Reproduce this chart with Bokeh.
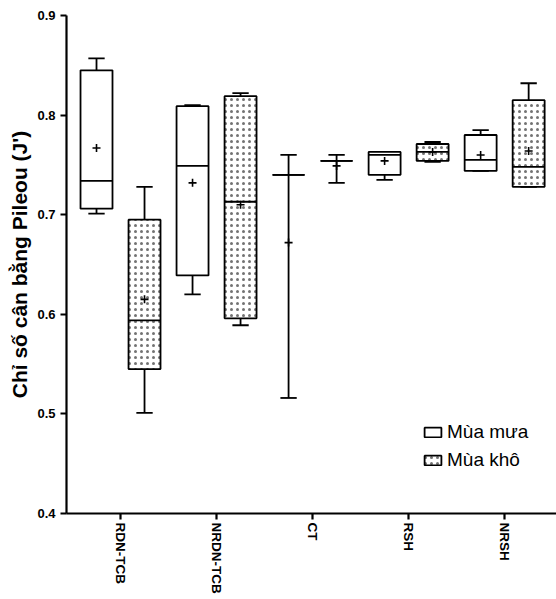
import numpy as np
from bokeh.plotting import figure
from bokeh.models import Range1d, FixedTicker, Legend, LegendItem, ColumnDataSource
from bokeh.embed import file_html
from bokeh.resources import INLINE

groups = ["RDN-TCB", "NRDN-TCB", "CT", "RSH", "NRSH"]
y_ticks = [0.4, 0.5, 0.6, 0.7, 0.8, 0.9]

rain_low = [0.701, 0.620, 0.516, 0.735, 0.744]
rain_q1 = [0.706, 0.639, 0.740, 0.740, 0.744]
rain_med = [0.734, 0.749, 0.740, 0.760, 0.755]
rain_q3 = [0.845, 0.809, 0.740, 0.763, 0.780]
rain_high = [0.857, 0.810, 0.760, 0.763, 0.785]
rain_mean = [0.767, 0.732, 0.672, 0.754, 0.760]

dry_low = [0.501, 0.589, 0.732, 0.753, 0.728]
dry_q1 = [0.545, 0.596, 0.754, 0.754, 0.728]
dry_med = [0.594, 0.713, 0.754, 0.763, 0.748]
dry_q3 = [0.695, 0.819, 0.754, 0.771, 0.815]
dry_high = [0.728, 0.822, 0.760, 0.773, 0.832]
dry_mean = [0.615, 0.710, 0.749, 0.763, 0.764]

FONT = "Liberation Sans"
BOX_W = 0.333
CAP_W = 0.17
LW = 1.8

p = figure(width=556, height=599, output_backend="svg", toolbar_location=None,
           x_range=Range1d(-0.5625, 4.54), y_range=Range1d(0.4, 0.9),
           min_border_left=66, min_border_top=15, min_border_bottom=86, min_border_right=0)
p.outline_line_color = None
p.xgrid.visible = False
p.ygrid.visible = False
p.background_fill_color = "white"
p.border_fill_color = "white"

idx = np.arange(len(groups), dtype=float)

def draw(offset, low, q1, med, q3, high, mean, hatch):
    x = idx + offset
    src = ColumnDataSource(dict(x=x, low=low, q1=q1, med=med, q3=q3, high=high, mean=mean,
                                x0=x - BOX_W / 2, x1=x + BOX_W / 2,
                                c0=x - CAP_W / 2, c1=x + CAP_W / 2))
    p.segment(x0="x", y0="low", x1="x", y1="q1", source=src, line_color="black", line_width=LW)
    p.segment(x0="x", y0="q3", x1="x", y1="high", source=src, line_color="black", line_width=LW)
    p.segment(x0="c0", y0="low", x1="c1", y1="low", source=src, line_color="black", line_width=LW)
    p.segment(x0="c0", y0="high", x1="c1", y1="high", source=src, line_color="black", line_width=LW)
    kw = dict(fill_color="white", line_color="black", line_width=LW)
    if hatch:
        kw.update(hatch_pattern="dot", hatch_color="black", hatch_alpha=0.55,
                  hatch_scale=6, hatch_weight=1.0)
    r = p.vbar(x="x", width=BOX_W, bottom="q1", top="q3", source=src, **kw)
    p.segment(x0="x0", y0="med", x1="x1", y1="med", source=src, line_color="black", line_width=LW)
    p.scatter(x="x", y="mean", source=src, marker="cross", size=8, line_color="black", line_width=1.6)
    return r

r_rain = draw(-0.25, rain_low, rain_q1, rain_med, rain_q3, rain_high, rain_mean, False)
r_dry = draw(0.25, dry_low, dry_q1, dry_med, dry_q3, dry_high, dry_mean, True)

# axes
p.xaxis.ticker = FixedTicker(ticks=list(idx))
p.xaxis.major_label_overrides = {float(i): g for i, g in enumerate(groups)}
p.xaxis.major_label_orientation = "vertical"
p.yaxis.ticker = FixedTicker(ticks=y_ticks)
p.yaxis.axis_label = "Chỉ số cân bằng Pileou (J')"
for ax in (p.xaxis[0], p.yaxis[0]):
    ax.axis_line_width = 2.2
    ax.axis_line_color = "black"
    ax.major_tick_line_width = 2.2
    ax.major_tick_line_color = "black"
    ax.major_tick_out = 6
    ax.major_tick_in = 0
    ax.minor_tick_line_color = None
    ax.major_label_text_font = FONT
    ax.major_label_text_font_style = "bold"
    ax.major_label_text_color = "black"
p.xaxis.major_label_text_font_size = "13.5px"
p.xaxis.major_label_standoff = 3
p.yaxis.major_label_text_font_size = "13px"
p.yaxis.major_label_standoff = 5
p.yaxis.axis_label_text_font = FONT
p.yaxis.axis_label_text_font_style = "bold"
p.yaxis.axis_label_text_font_size = "21px"
p.yaxis.axis_label_text_color = "black"
p.yaxis.axis_label_standoff = 3

legend = Legend(items=[LegendItem(label="Mùa mưa", renderers=[r_rain]),
                       LegendItem(label="Mùa khô", renderers=[r_dry])],
                location=(356, 42), padding=0, margin=0, spacing=6,
                glyph_width=21, glyph_height=12, label_standoff=4,
                label_text_font=FONT, label_text_font_size="19px",
                label_text_color="black",
                border_line_alpha=0, background_fill_alpha=0)
p.add_layout(legend)

open("out.html", "w").write(file_html(p, INLINE))
